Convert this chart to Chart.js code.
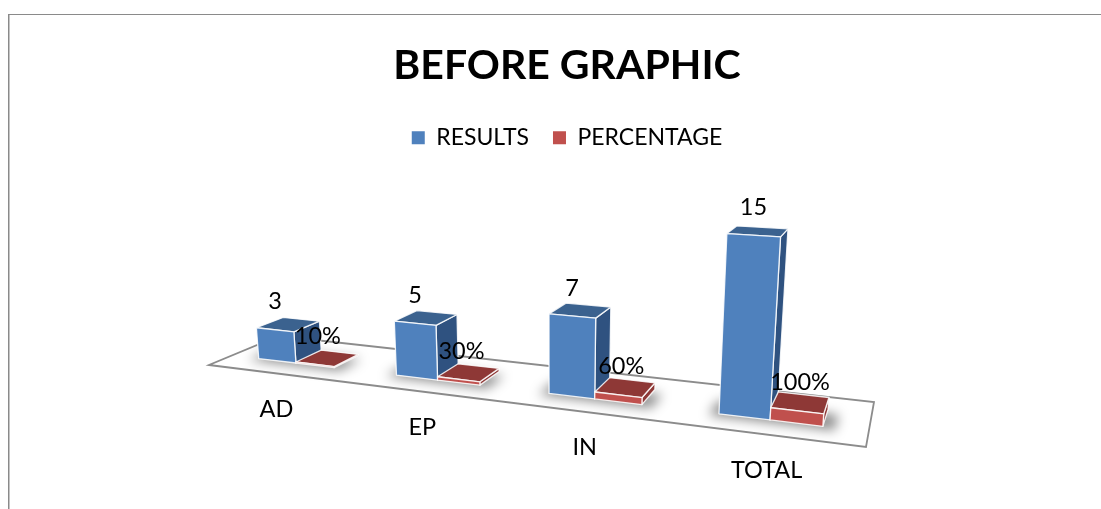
<!DOCTYPE html>
<html>
<head>
<meta charset="utf-8">
<title>BEFORE GRAPHIC</title>
<script src="https://cdn.jsdelivr.net/npm/chart.js@4"></script>
<style>
  html, body { margin: 0; padding: 0; background: #fff; }
  canvas { display: block; }
</style>
</head>
<body>
<canvas id="chart" width="1101" height="509"></canvas>
<script>
// Chart data
const categories = ['AD', 'EP', 'IN', 'TOTAL'];
const results = [3, 5, 7, 15];
const percentage = [0.1, 0.3, 0.6, 1];
const resultLabels = ['3', '5', '7', '15'];
const percentLabels = ['10%', '30%', '60%', '100%'];

const FONT = 'Lato, "Open Sans", sans-serif';

// Floor corners on screen: front-left, front-right, back-right, back-left
const FLOOR = [[209, 365], [866, 447], [874, 402], [279, 336]];
const BAR_V0 = 0.31;      // front of the bars on the floor (0 = front edge, 1 = back edge)
const BAR_V1 = 0.70;      // back of the bars
const HEIGHT_PX = 168;    // screen height of the full y axis at w = 1
const LEAN = 0.00026;     // verticals spread away from LEAN_X as they rise
const LEAN_X = 550;

// Square to quad perspective map for the floor
function makeFloor(q) {
  const dx1 = q[1][0] - q[2][0], dx2 = q[3][0] - q[2][0], sx = q[0][0] - q[1][0] + q[2][0] - q[3][0];
  const dy1 = q[1][1] - q[2][1], dy2 = q[3][1] - q[2][1], sy = q[0][1] - q[1][1] + q[2][1] - q[3][1];
  const den = dx1 * dy2 - dx2 * dy1;
  const g = (sx * dy2 - dx2 * sy) / den;
  const h = (dx1 * sy - sx * dy1) / den;
  return { g, h,
    a: q[1][0] - q[0][0] + g * q[1][0], b: q[3][0] - q[0][0] + h * q[3][0], c: q[0][0],
    d: q[1][1] - q[0][1] + g * q[1][1], e: q[3][1] - q[0][1] + h * q[3][1], f: q[0][1] };
}
const floor = makeFloor(FLOOR);

// u along the categories, v into the depth, t = height as a share of the y axis
function project(u, v, t) {
  const w = 1 + floor.g * u + floor.h * v;
  const x = (floor.a * u + floor.b * v + floor.c) / w;
  const y = (floor.d * u + floor.e * v + floor.f) / w;
  const lift = t * HEIGHT_PX / w;
  return [x + (x - LEAN_X) * lift * LEAN, y - lift];
}

function poly(ctx, pts, fill, stroke) {
  ctx.beginPath();
  pts.forEach((p, i) => i ? ctx.lineTo(p[0], p[1]) : ctx.moveTo(p[0], p[1]));
  ctx.closePath();
  if (fill) { ctx.fillStyle = fill; ctx.fill(); }
  if (stroke) { ctx.strokeStyle = stroke; ctx.stroke(); }
}

function drawBox(ctx, u0, u1, t, front, top, side) {
  const v0 = BAR_V0, v1 = BAR_V1;
  const edge = 'rgba(255,255,255,0.85)';
  ctx.lineWidth = 1.3;
  ctx.lineJoin = 'round';
  poly(ctx, [project(u1, v0, 0), project(u1, v1, 0), project(u1, v1, t), project(u1, v0, t)], side, edge);
  poly(ctx, [project(u0, v0, t), project(u1, v0, t), project(u1, v1, t), project(u0, v1, t)], top, edge);
  poly(ctx, [project(u0, v0, 0), project(u1, v0, 0), project(u1, v0, t), project(u0, v0, t)], front, edge);
}

const perspectiveBars = {
  id: 'perspectiveBars',
  beforeDraw(chart) {
    const ctx = chart.ctx;
    ctx.save();
    ctx.fillStyle = '#fff';
    ctx.fillRect(0, 0, chart.width, chart.height);
    // picture frame
    ctx.fillStyle = '#8a8a8a';
    ctx.fillRect(8, 14, chart.width - 8, 1);
    ctx.fillRect(8, 14, 1, chart.height - 14);
    ctx.fillStyle = '#c4c4c4';
    ctx.fillRect(9, 15, 1, chart.height - 15);
    ctx.restore();
  },
  beforeDatasetsDraw(chart) {
    const ctx = chart.ctx;
    const xs = chart.scales.x, ys = chart.scales.y;
    const toU = px => (px - xs.left) / xs.width - 0.004;
    const toT = (el) => (el.base - el.y) / ys.height;
    const blue = chart.getDatasetMeta(0).data;
    const red = chart.getDatasetMeta(1).data;

    ctx.save();
    poly(ctx, FLOOR, '#fff', null);
    ctx.lineWidth = 1.8;
    poly(ctx, FLOOR, null, '#8c8c8c');

    // soft shadow under each pair of bars
    categories.forEach((c, i) => {
      const u0 = toU(blue[i].x - blue[i].width / 2);
      const u1 = toU(red[i].x + red[i].width / 2);
      ctx.save();
      ctx.filter = 'blur(6px)';
      poly(ctx, [project(u0 - 0.012, BAR_V0 - 0.06, 0), project(u1 + 0.016, BAR_V0 - 0.06, 0),
        project(u1 + 0.016, BAR_V1 - 0.1, 0), project(u0 - 0.012, BAR_V1 - 0.1, 0)], 'rgba(0,0,0,0.45)', null);
      ctx.restore();
    });

    categories.forEach((c, i) => {
      drawBox(ctx, toU(blue[i].x - blue[i].width / 2), toU(blue[i].x + blue[i].width / 2), toT(blue[i]),
        '#4f81bd', '#3b628f', '#2f5280');
      drawBox(ctx, toU(red[i].x - red[i].width / 2), toU(red[i].x + red[i].width / 2), toT(red[i]),
        '#c0504d', '#8e3836', '#8e3836');
    });

    // value and category labels
    ctx.font = '23.5px ' + FONT;
    ctx.fillStyle = '#000';
    ctx.textAlign = 'center';
    ctx.textBaseline = 'middle';
    categories.forEach((c, i) => {
      const a = project(toU(blue[i].x), BAR_V0, toT(blue[i]));
      ctx.fillText(resultLabels[i], a[0], a[1] - 28);
      const b = project(toU(red[i].x), BAR_V0, toT(red[i]));
      ctx.fillText(percentLabels[i], b[0] + 3, b[1] - 28);
      const t = project(toU(xs.getPixelForTick(i)) + 0.004, 0, 0);
      ctx.fillText(c, t[0], t[1] + 36);
    });
    ctx.restore();
    return false;
  }
};

new Chart(document.getElementById('chart').getContext('2d'), {
  type: 'bar',
  data: {
    labels: categories,
    datasets: [
      { label: 'RESULTS', data: results, backgroundColor: '#4f81bd' },
      { label: 'PERCENTAGE', data: percentage, backgroundColor: '#c0504d' }
    ]
  },
  options: {
    responsive: false,
    animation: false,
    layout: { padding: { top: 41, left: 33, right: 0, bottom: 60 } },
    datasets: { bar: { categoryPercentage: 0.56, barPercentage: 1 } },
    scales: {
      x: { display: false },
      y: { display: false, min: 0, max: 16 }
    },
    plugins: {
      tooltip: { enabled: false },
      title: {
        display: true,
        text: 'BEFORE GRAPHIC',
        color: '#000',
        font: { family: FONT, size: 41, weight: 'bold' },
        padding: { top: 0, bottom: 12 }
      },
      legend: {
        position: 'top',
        labels: {
          color: '#000',
          font: { family: FONT, size: 23 },
          boxWidth: 13,
          boxHeight: 13,
          padding: 24
        }
      }
    }
  },
  plugins: [perspectiveBars]
});
</script>
</body>
</html>
